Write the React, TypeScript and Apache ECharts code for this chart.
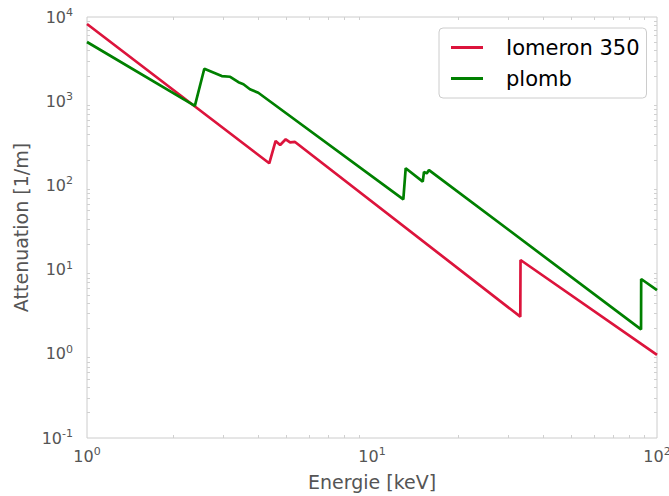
import React, { useEffect, useRef } from "react";
import * as echarts from "echarts";

const energyIomeron = [1, 4.36, 4.59, 4.76, 4.98, 5.16, 5.37, 33.14, 33.2, 100];
const attIomeron = [8260, 183, 337, 302, 353, 325, 328, 2.76, 13.0, 0.97];

const energyPlomb = [1, 2.39, 2.58, 2.97, 3.18, 3.4, 3.54, 3.73, 3.99, 12.88, 13.13, 15.07, 15.22, 15.56, 15.85, 87.9, 88.0, 100];
const attPlomb = [5050, 880, 2430, 1990, 1950, 1680, 1590, 1385, 1260, 68.4, 160, 111, 145, 139, 152, 1.95, 7.73, 5.72];

const seriesNames = ["Iomeron 350", "plomb"];
const xTicksExp = [0, 1, 2];
const yTicksExp = [-1, 0, 1, 2, 3, 4];
const minorMult = [2, 3, 4, 5, 6, 7, 8, 9];

function minorLogs(exps: number[]) {
  const out: number[] = [];
  for (let i = 0; i < exps.length - 1; i++) {
    for (const m of minorMult) out.push(exps[i] + Math.log10(m));
  }
  return out;
}

const supFormatter = (v: number) => `{b|10}{s|${Math.round(Math.log10(v))}}`;
const richLabel = {
  b: { fontSize: 16, color: "#555", fontFamily: "DejaVu Sans" },
  s: { fontSize: 11, color: "#555", fontFamily: "DejaVu Sans", padding: [0, 0, 9, 0] },
};

export default function App() {
  const ref = useRef<HTMLDivElement>(null);
  useEffect(() => {
    if (!ref.current) return;
    const chart = echarts.init(ref.current, null, { renderer: "svg" });
    const pairs = (xs: number[], ys: number[]) => xs.map((x, i) => [x, ys[i]]);
    const tickStyle = { color: "#d0d0d0", width: 1 };
    const xMinor = minorLogs(xTicksExp);
    const yMinor = minorLogs(yTicksExp);
    const auxX = (pos: "top" | "bottom") => ({
      type: "value",
      min: 0,
      max: 2,
      position: pos,
      axisLine: { show: false, onZero: false },
      splitLine: { show: false },
      axisLabel: { show: false },
      axisTick: { show: true, inside: true, length: 3, lineStyle: tickStyle, customValues: xMinor },
    });
    const auxY = (pos: "left" | "right") => ({
      type: "value",
      min: -1,
      max: 4,
      position: pos,
      axisLine: { show: false, onZero: false },
      splitLine: { show: false },
      axisLabel: { show: false },
      axisTick: { show: true, inside: true, length: 3, lineStyle: tickStyle, customValues: yMinor },
    });
    chart.setOption({
      animation: false,
      grid: {
        left: 87,
        right: 12,
        top: 17,
        bottom: 58,
        show: true,
        borderColor: "#cccccc",
        borderWidth: 1,
        backgroundColor: "#fff",
        outerBoundsMode: "none",
        containLabel: false,
      },
      legend: {
        left: 439,
        top: 28,
        width: 207,
        orient: "vertical",
        data: seriesNames,
        icon: "rect",
        itemWidth: 32,
        itemHeight: 3,
        itemGap: 10,
        padding: [9, 7, 9, 12],
        borderColor: "#cccccc",
        borderWidth: 1,
        borderRadius: 4,
        textStyle: {
          fontSize: 21,
          color: "#000",
          fontFamily: "DejaVu Sans",
          padding: [0, 0, 0, 18],
          lineHeight: 19,
        },
      },
      xAxis: [
        {
          type: "log",
          logBase: 10,
          min: 1,
          max: 100,
          name: "Energie [keV]",
          nameLocation: "middle",
          nameGap: 34,
          nameTextStyle: { fontSize: 19, color: "#555", fontFamily: "DejaVu Sans" },
          axisLine: { show: false, onZero: false },
          axisTick: { show: false },
          splitLine: { show: false },
          axisLabel: { formatter: supFormatter, rich: richLabel, margin: 8 },
        },
        auxX("bottom"),
        auxX("top"),
      ],
      yAxis: [
        {
          type: "log",
          logBase: 10,
          min: 0.1,
          max: 10000,
          name: "Attenuation [1/m]",
          nameLocation: "middle",
          nameGap: 52,
          nameTextStyle: { fontSize: 19, color: "#555", fontFamily: "DejaVu Sans" },
          axisLine: { show: false, onZero: false },
          axisTick: { show: false },
          splitLine: { show: false },
          axisLabel: { formatter: supFormatter, rich: richLabel, margin: 14 },
        },
        auxY("left"),
        auxY("right"),
      ],
      series: [
        {
          name: seriesNames[0],
          type: "line",
          data: pairs(energyIomeron, attIomeron),
          showSymbol: false,
          symbol: "none",
          lineStyle: { color: "#dc143c", width: 2.7 },
          itemStyle: { color: "#dc143c" },
        },
        {
          name: seriesNames[1],
          type: "line",
          data: pairs(energyPlomb, attPlomb),
          showSymbol: false,
          symbol: "none",
          lineStyle: { color: "#008000", width: 2.7 },
          itemStyle: { color: "#008000" },
        },
      ],
    });
    return () => chart.dispose();
  }, []);
  return (
    <div
      ref={ref}
      style={{ position: "fixed", left: 0, top: 0, width: 669, height: 496, background: "#fff" }}
    />
  );
}
